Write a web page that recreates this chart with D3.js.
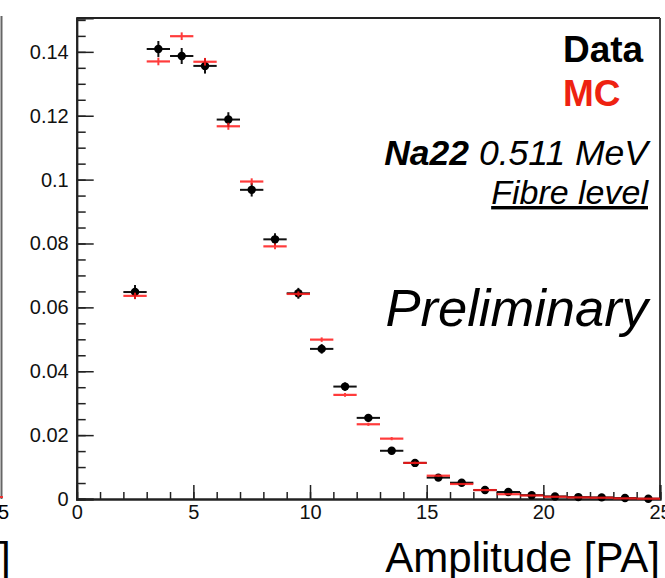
<!DOCTYPE html>
<html><head><meta charset="utf-8">
<script src="https://cdn.jsdelivr.net/npm/d3@7"></script>
<style>
body{margin:0;background:#fff}
svg{display:block}
text{font-family:"Liberation Sans",Arial,Helvetica,sans-serif}
</style>
</head><body>
<svg id="c" width="665" height="578"></svg>
<script>
// ---- data ----
const binCenters = [2.5,3.5,4.5,5.5,6.5,7.5,8.5,9.5,10.5,11.5,12.5,13.5,14.5,15.5,16.5,17.5,18.5,19.5,20.5,21.5,22.5,23.5,24.5];
const dataValues = [0.0648,0.1409,0.1387,0.1356,0.1188,0.0968,0.0813,0.0644,0.0470,0.0352,0.0254,0.0151,0.0113,0.0067,0.0051,0.0028,0.0022,0.0012,0.0008,0.0006,0.0005,0.0003,0.0001];
const dataErrors = [0.0022,0.0025,0.0025,0.0024,0.0023,0.0021,0.0019,0.0017,0.0015,0.0013,0.0011,0.0009,0.0008,0.0006,0.0005,0.0004,0.0004,0.0003,0.0003,0.0002,0.0002,0.0002,0.0001];
const mcValues = [0.0636,0.1370,0.1449,0.1369,0.1167,0.0994,0.0791,0.0642,0.0499,0.0326,0.0234,0.0189,0.0113,0.0073,0.0047,0.0028,0.0015,0.0011,0.0007,0.0005,0.0004,0.0002,0.0001];
const mcErrors = [0.0010,0.0012,0.0012,0.0012,0.0011,0.0010,0.0009,0.0008,0.0007,0.0006,0.0005,0.0005,0.0004,0.0003,0.0003,0.0002,0.0002,0.0002,0.0001,0.0001,0.0001,0.0001,0.0001];
const binWidth = 1;
const xTicks = [0,5,10,15,20,25];
const xMinorTicks = d3.range(0,26,1);
const yTicks = [0,0.02,0.04,0.06,0.08,0.1,0.12,0.14];
const yTickLabels = ["0","0.02","0.04","0.06","0.08","0.1","0.12","0.14"];
const yMinorTicks = d3.range(0,31).map(i=>i*0.005);
const xDomain = [0,25];
const yDomain = [0,0.1506];

const svg = d3.select("#c");
const L = 76.7, R = 660, T = 18, B = 499;
const x = d3.scaleLinear().domain(xDomain).range([L,R]);
const y = d3.scaleLinear().domain(yDomain).range([B,T]);

// partial neighbouring panel on the left edge
svg.append("line").attr("x1",1.5).attr("x2",1.5).attr("y1",16).attr("y2",499)
  .attr("stroke","#666").attr("stroke-width",2);
svg.append("line").attr("x1",0).attr("x2",3).attr("y1",497).attr("y2",497)
  .attr("stroke","#e33").attr("stroke-width",2);
svg.append("text").attr("x",-2).attr("y",519).attr("font-size",20).text("5");
svg.append("text").attr("x",-1).attr("y",572).attr("font-size",42).text("]");

// frame
svg.append("line").attr("x1",L).attr("x2",R).attr("y1",T).attr("y2",T).attr("stroke","#222").attr("stroke-width",2);
svg.append("line").attr("x1",R).attr("x2",R).attr("y1",T).attr("y2",B).attr("stroke","#444").attr("stroke-width",2);

// y axis minor + major
const yMinor = svg.append("g").attr("transform",`translate(${L},0)`)
  .call(d3.axisLeft(y).tickValues(yMinorTicks).tickSize(-9).tickFormat(""));
const yMajor = svg.append("g").attr("transform",`translate(${L},0)`)
  .call(d3.axisLeft(y).tickValues(yTicks).tickSize(-17).tickPadding(8)
    .tickFormat((d,i)=>yTickLabels[i]));
// x axis minor + major
const xMinor = svg.append("g").attr("transform",`translate(0,${B})`)
  .call(d3.axisBottom(x).tickValues(xMinorTicks).tickSize(-7).tickFormat(""));
const xMajor = svg.append("g").attr("transform",`translate(0,${B})`)
  .call(d3.axisBottom(x).tickValues(xTicks).tickSize(-14).tickPadding(13)
    .tickFormat(d3.format("d")));

[yMinor,yMajor,xMinor,xMajor].forEach(g=>{
  g.selectAll(".domain").attr("stroke","#222").attr("stroke-width",2);
  g.selectAll(".tick line").attr("stroke","#222").attr("stroke-width",1.5);
  g.selectAll("text").attr("font-size",20).attr("fill","#111")
   .style("font-family",'"Liberation Sans",Arial,sans-serif');
});
xMajor.selectAll(".tick text").attr("dy","0.35em");

// data points (black)
const dg = svg.append("g");
binCenters.forEach((c,i)=>{
  const v = dataValues[i], e = dataErrors[i];
  dg.append("line").attr("x1",x(c-binWidth/2)).attr("x2",x(c+binWidth/2))
    .attr("y1",y(v)).attr("y2",y(v)).attr("stroke","#111").attr("stroke-width",2);
  dg.append("line").attr("x1",x(c)).attr("x2",x(c))
    .attr("y1",y(Math.max(0,v-e))).attr("y2",y(v+e)).attr("stroke","#111").attr("stroke-width",2);
  dg.append("circle").attr("cx",x(c)).attr("cy",y(v)).attr("r",4.2).attr("fill","#000");
});

// MC (red)
const mg = svg.append("g").attr("opacity",0.85);
binCenters.forEach((c,i)=>{
  const v = mcValues[i], e = mcErrors[i];
  mg.append("line").attr("x1",x(c-binWidth/2)).attr("x2",x(c+binWidth/2))
    .attr("y1",y(v)).attr("y2",y(v)).attr("stroke","#ff1a1a").attr("stroke-width",2.2);
  mg.append("line").attr("x1",x(c)).attr("x2",x(c))
    .attr("y1",y(Math.max(0,v-e))).attr("y2",y(v+e)).attr("stroke","#ff1a1a").attr("stroke-width",2);
});

// legend / labels
svg.append("text").attr("x",563).attr("y",62).attr("font-size",37).attr("font-weight","bold")
  .attr("fill","#000").text("Data");
svg.append("text").attr("x",563).attr("y",106).attr("font-size",37).attr("font-weight","bold")
  .attr("fill","#ee2211").text("MC");
const na = svg.append("text").attr("x",648).attr("y",165).attr("font-size",35.5)
  .attr("text-anchor","end").attr("font-style","italic").attr("fill","#000");
na.append("tspan").attr("font-weight","bold").text("Na22");
na.append("tspan").text(" 0.511 MeV");
svg.append("text").attr("x",648).attr("y",204).attr("font-size",34)
  .attr("text-anchor","end").attr("font-style","italic").attr("fill","#000")
  .attr("text-decoration","underline").text("Fibre level");
svg.append("text").attr("x",648).attr("y",326).attr("font-size",52.5)
  .attr("text-anchor","end").attr("font-style","italic").attr("fill","#000").text("Preliminary");

// x axis title
svg.append("text").attr("x",660).attr("y",572).attr("font-size",42)
  .attr("text-anchor","end").attr("fill","#000").text("Amplitude [PA]");
</script>
</body></html>
